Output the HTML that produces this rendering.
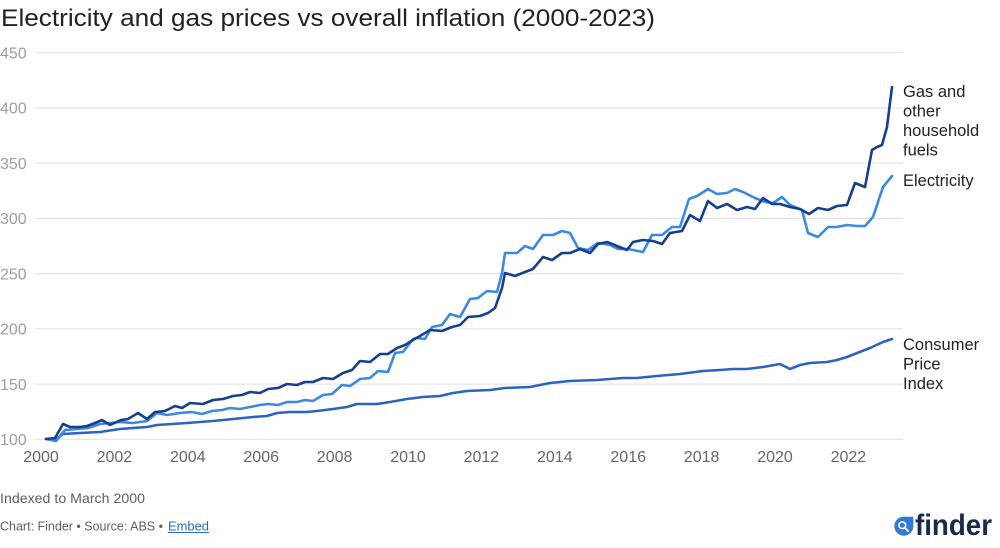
<!DOCTYPE html>
<html>
<head>
<meta charset="utf-8">
<style>
  html, body { margin: 0; padding: 0; background: #ffffff; }
  body { width: 1000px; height: 548px; overflow: hidden; }
  svg { display: block; font-family: "Liberation Sans", Arial, sans-serif; }
</style>
</head>
<body>
<svg width="1000" height="548" viewBox="0 0 1000 548" xmlns="http://www.w3.org/2000/svg">
  <rect x="0" y="0" width="1000" height="548" fill="#ffffff"/>

  <!-- Title -->
  <text x="1" y="26" font-size="24" fill="#222222" textLength="654" lengthAdjust="spacingAndGlyphs">Electricity and gas prices vs overall inflation (2000-2023)</text>

  <!-- Gridlines -->
  <g stroke="#e5e5e5" stroke-width="1.2">
    <line x1="35" y1="52.7" x2="903" y2="52.7"/>
    <line x1="35" y1="107.9" x2="903" y2="107.9"/>
    <line x1="35" y1="163.1" x2="903" y2="163.1"/>
    <line x1="35" y1="218.4" x2="903" y2="218.4"/>
    <line x1="35" y1="273.6" x2="903" y2="273.6"/>
    <line x1="35" y1="328.8" x2="903" y2="328.8"/>
    <line x1="35" y1="384.1" x2="903" y2="384.1"/>
    <line x1="35" y1="439.3" x2="903" y2="439.3"/>
  </g>

  <!-- Y labels -->
  <g font-size="16" fill="#9e9e9e">
    <text x="0" y="58.5">450</text>
    <text x="0" y="113.7">400</text>
    <text x="0" y="168.9">350</text>
    <text x="0" y="224.2">300</text>
    <text x="0" y="279.4">250</text>
    <text x="0" y="334.6">200</text>
    <text x="0" y="389.9">150</text>
    <text x="0" y="445.1">100</text>
  </g>

  <!-- X labels -->
  <g font-size="16" fill="#666666" text-anchor="middle">
    <text x="41" y="462">2000</text>
    <text x="114.4" y="462">2002</text>
    <text x="187.8" y="462">2004</text>
    <text x="261.2" y="462">2006</text>
    <text x="334.6" y="462">2008</text>
    <text x="408" y="462">2010</text>
    <text x="481.4" y="462">2012</text>
    <text x="554.8" y="462">2014</text>
    <text x="628.2" y="462">2016</text>
    <text x="701.6" y="462">2018</text>
    <text x="775" y="462">2020</text>
    <text x="848.4" y="462">2022</text>
  </g>

  <!-- CPI -->
  <polyline fill="none" stroke="#2b64bf" stroke-width="2.6" stroke-linejoin="round" stroke-linecap="round"
    points="46,439 55,440 63,434 80,433 100,432 120,429 147,427 157,425 187,423 213,421 233,419 253,417 267,416 277,413 290,412 307,412 317,411 333,409 347,407 357,404 377,404 390,402 407,399 423,397 440,396 453,393 467,391 490,390 505,388 530,387 550,383 570,381 597,380 623,378 637,378 657,376 680,374 703,371 720,370 733,369 747,369 763,367 780,364 790,369 800,365 810,363 827,362 837,360 847,357 857,353 870,348 883,342 892,339"/>

  <!-- Electricity -->
  <polyline fill="none" stroke="#3b8ae0" stroke-width="2.6" stroke-linejoin="round" stroke-linecap="round"
    points="46,439 56,441 65,430 77,429 88,428 100,424 110,423 120,422 133,423 147,421 157,413 167,415 180,413 192,412 202,414 212,411 222,410 230,408 240,409 250,407 260,405 268,404 278,405 287,402 297,402 305,400 313,401 323,395 332,394 342,385 350,386 360,379 370,378 378,371 388,372 395,353 403,352 413,339 417,338 425,339 432,327 442,325 450,314 460,317 470,299 478,298 487,291 497,292 502,273 505,253 517,253 525,246 533,249 543,235 553,235 562,231 570,233 578,248 588,250 598,243 610,245 618,249 628,249 643,252 652,235 662,235 672,227 680,227 689,199 697,196 708,189 717,194 727,193 735,189 743,192 755,198 765,202 773,203 782,197 790,205 802,210 808,233 818,237 828,227 837,227 847,225 857,226 865,226 873,217 883,187 892,176"/>

  <!-- Gas and other household fuels -->
  <polyline fill="none" stroke="#173f8f" stroke-width="2.6" stroke-linejoin="round" stroke-linecap="round"
    points="46,439 55,438 63,424 70,427 80,427 87,426 95,423 102,420 110,425 121,420 128,419 138,413 147,419 155,412 165,411 175,406 182,408 190,403 203,404 213,400 223,399 233,396 242,395 250,392 260,393 268,389 278,388 287,384 297,385 305,382 313,382 323,378 333,379 343,373 352,370 360,361 370,362 380,354 388,354 397,348 405,345 413,340 420,336 430,330 442,331 452,327 460,325 468,317 480,316 488,313 495,308 502,288 505,273 515,276 525,272 533,269 538,263 543,257 552,260 562,253 570,253 580,249 590,253 598,244 607,242 617,246 627,250 633,242 643,240 653,241 662,244 670,233 682,231 690,215 700,221 708,201 717,208 727,204 737,210 747,207 755,209 763,198 772,204 780,204 790,207 800,209 809,214 818,208 828,210 837,206 847,205 855,183 865,187 872,150 877,147 882,145 887,127 892,87"/>

  <!-- Series labels -->
  <g font-size="16.5" fill="#222222">
    <text x="903" y="97">Gas and</text>
    <text x="903" y="116.5">other</text>
    <text x="903" y="136">household</text>
    <text x="903" y="155.5">fuels</text>
    <text x="903" y="186">Electricity</text>
    <text x="903" y="350">Consumer</text>
    <text x="903" y="369.5">Price</text>
    <text x="903" y="389">Index</text>
  </g>

  <!-- Footer -->
  <text x="0" y="503" font-size="14" fill="#5f5f5f" textLength="145" lengthAdjust="spacingAndGlyphs">Indexed to March 2000</text>
  <text x="0" y="530.5" font-size="13" fill="#5f5f5f" textLength="163" lengthAdjust="spacingAndGlyphs">Chart: Finder • Source: ABS •</text>
  <text x="168" y="530.5" font-size="13" fill="#2a6ad1" textLength="41" lengthAdjust="spacingAndGlyphs">Embed</text>
  <line x1="168" y1="532.5" x2="209" y2="532.5" stroke="#2a6ad1" stroke-width="1"/>

  <!-- Finder logo -->
  <path d="M913.3,516.7 L913.3,526.2 A9.5,9.5 0 1 1 903.8,516.7 Z" fill="#2f78dc"/>
  <circle cx="902.3" cy="525.2" r="3.4" fill="none" stroke="#ffffff" stroke-width="1.6"/>
  <line x1="904.8" y1="527.7" x2="908.3" y2="531.2" stroke="#ffffff" stroke-width="1.8" stroke-linecap="round"/>
  <text x="915" y="535" font-size="30" font-weight="bold" fill="#1b2a4a" textLength="77" lengthAdjust="spacingAndGlyphs">finder</text>
</svg>
</body>
</html>
